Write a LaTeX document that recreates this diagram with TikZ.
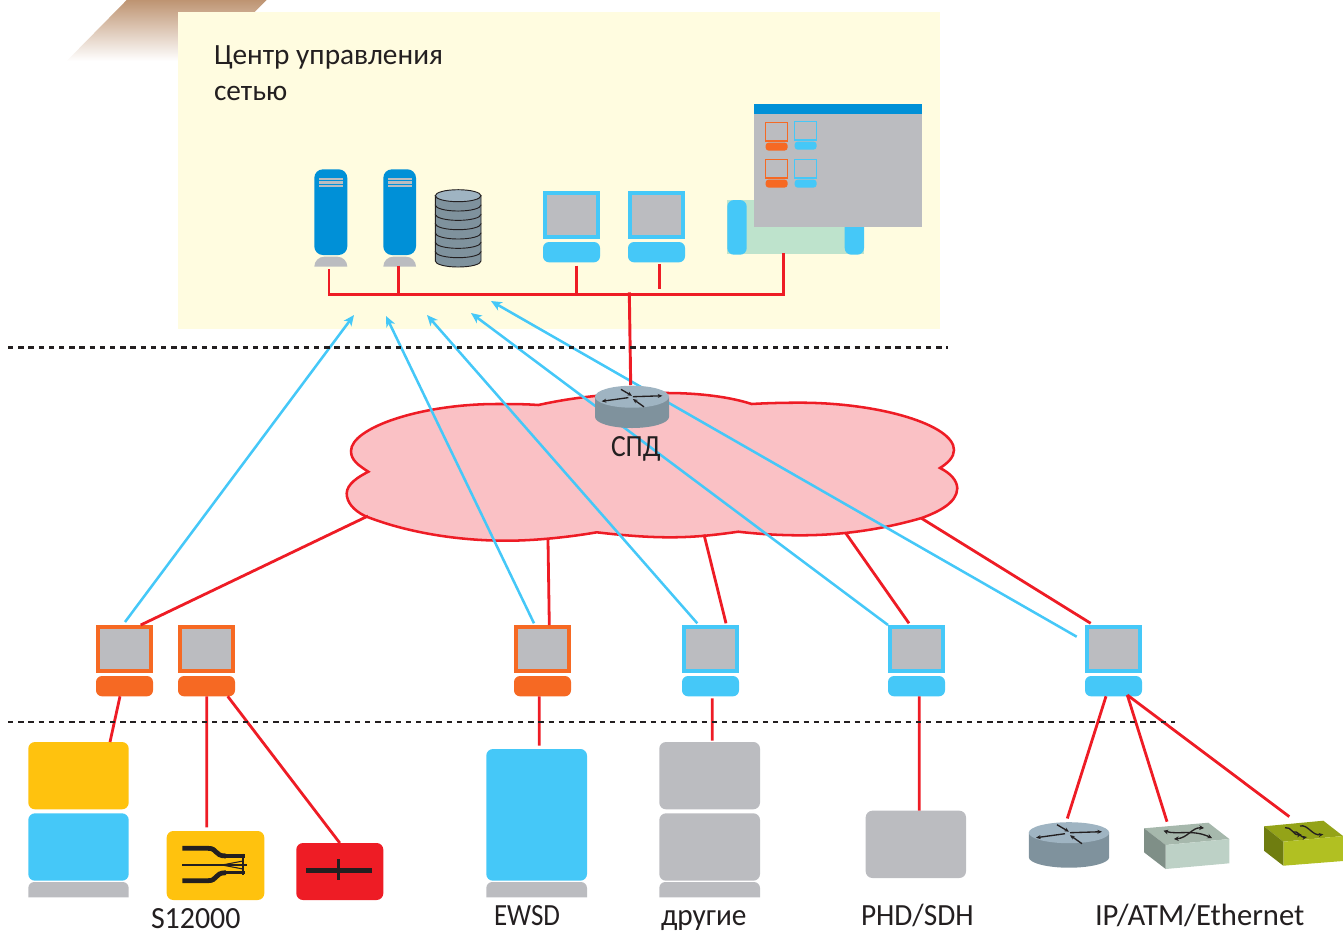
\documentclass[tikz,border=0pt]{standalone}
\usepackage{graphicx}
\usepackage{fontspec}
\setmainfont{Carlito}
\usetikzlibrary{arrows.meta}
\definecolor{cRed}{HTML}{EE1C25}
\definecolor{cBlue}{HTML}{45C8F8}
\definecolor{cOrange}{HTML}{F66923}
\definecolor{cYellow}{HTML}{FFC20E}
\definecolor{cGray}{HTML}{BBBCC0}
\definecolor{cServer}{HTML}{0090D7}
\definecolor{cPanel}{HTML}{FFFCE0}
\definecolor{cCloud}{HTML}{FAC1C5}
\definecolor{cInk}{HTML}{231F20}
\definecolor{cRtop}{HTML}{9FB4C2}
\definecolor{cRside}{HTML}{7F929D}
\definecolor{cGreen}{HTML}{BEE3CC}
\definecolor{cBrown}{HTML}{BE9472}
\definecolor{swTop}{HTML}{A6B8AC}
\definecolor{swRight}{HTML}{BDD1C6}
\definecolor{swLeft}{HTML}{7F8F87}
\definecolor{olTop}{HTML}{94A318}
\definecolor{olRight}{HTML}{B1C022}
\definecolor{olLeft}{HTML}{6F7D10}
\tikzset{
  blk/.style={inner sep=0pt,outer sep=0pt,draw=none},
  soft/.style={blk,rounded corners=5pt},
  redl/.style={draw=cRed,line width=2.2pt},
  redthin/.style={draw=cRed,line width=2.1pt},
  bluel/.style={draw=cBlue,line width=1.9pt,-{Stealth[length=8pt,width=7pt,inset=2.2pt]}},
  dashl/.style={draw=cInk,line width=1.7pt,dash pattern=on 4.1pt off 3.55pt},
  lbl/.style={anchor=base west,inner sep=0pt,outer sep=0pt,text=cInk,font=\fontsize{22}{26}\selectfont},
  glyph/.style={draw=cInk,line width=1pt,-{Stealth[length=3.5pt,width=3pt]}},
}
% style, name, x1, y1, x2, y2 (picture pixels)
\newcommand\boxnode[6]{%
  \pgfmathsetmacro\bw{(#5-#3)*0.75}\pgfmathsetmacro\bh{(#6-#4)*0.75}%
  \node[#1,minimum width=\bw pt,minimum height=\bh pt] (#2) at ({(#3+#5)/2},{(#4+#6)/2}) {};}
% name, left, top, colour
\newcommand\monitor[4]{%
  \pgfmathsetmacro\xr{#2+57}\pgfmathsetmacro\yb{#3+47.7}%
  \boxnode{blk,fill=#4}{#1}{#2}{#3}{\xr}{\yb}%
  \pgfmathsetmacro\xa{#2+4}\pgfmathsetmacro\xb{#2+53}\pgfmathsetmacro\ya{#3+4}\pgfmathsetmacro\yc{#3+43.7}%
  \boxnode{blk,fill=cGray}{#1s}{\xa}{\ya}{\xb}{\yc}%
  \pgfmathsetmacro\ya{#3+51}\pgfmathsetmacro\yc{#3+71.3}%
  \boxnode{blk,fill=#4,rounded corners=4.5pt}{#1b}{#2}{\ya}{\xr}{\yc}}
% name, left, top, colour (small monitor in the window)
\newcommand\minimon[4]{%
  \pgfmathsetmacro\xr{#2+22.2}\pgfmathsetmacro\yb{#3+18.4}%
  \boxnode{blk,draw=#4,line width=.95pt,fill=cGray}{#1}{#2}{#3}{\xr}{\yb}%
  \pgfmathsetmacro\ya{#3+20}\pgfmathsetmacro\yc{#3+28.2}%
  \boxnode{blk,fill=#4,rounded corners=2.5pt}{#1b}{#2}{\ya}{\xr}{\yc}}
% x1, x2, ytop, ybot, radius
\newcommand\tabshape[5]{%
  \fill[cGray] (#1,#4) -- ({#1},{#3+#5}) .. controls ({#1},{#3+0.45*#5}) and ({#1+0.45*#5},{#3}) .. ({#1+#5},{#3})
    -- ({#2-#5},{#3}) .. controls ({#2-0.45*#5},{#3}) and ({#2},{#3+0.45*#5}) .. ({#2},{#3+#5}) -- (#2,#4) -- cycle;}
% name, cx, cy(top ellipse), rx, ry, height, scale
\newcommand\router[7]{%
  \pgfmathsetmacro\bw{2*#4*0.75}\pgfmathsetmacro\bh{(2*#5+#6)*0.75}%
  \node[blk,minimum width=\bw pt,minimum height=\bh pt] (#1) at ({#2},{#3+#6/2}) {};
  \fill[cRside] ({#2-#4},{#3}) -- ({#2-#4},{#3+#6}) arc[start angle=180,end angle=0,x radius=#4,y radius=#5] -- ({#2+#4},{#3}) -- cycle;
  \fill[cRtop] (#2,#3) ellipse [x radius=#4,y radius=#5];
  \begin{scope}[shift={(#2,#3)},scale=#7]
    \draw[glyph] (-4,1) -- (-33,5);
    \draw[glyph] (1,0) -- (33,-1);
    \draw[glyph] (-12,-8) -- (0,-1);
    \draw[glyph] (13,11) -- (1,2.5);
  \end{scope}}
\newcommand\server[3]{% name, x1, x2
  \boxnode{blk,fill=cServer,rounded corners=6.5pt}{#1}{#2}{169.3}{#3}{255}
  \fill[cGray] ({#2+4.7},177.7) rectangle ({#3-4.3},180.3);
  \fill[cGray] ({#2+4.7},181.3) rectangle ({#3-4.3},183.7);
  \fill[cGray] ({#2+4.7},184.7) rectangle ({#3-4.3},187);
  \tabshape{#2}{#3}{256.7}{266.7}{10}
  \boxnode{blk}{#1b}{#2}{256.7}{#3}{266.7}}
\begin{document}
\begin{tikzpicture}[x=0.75pt,y=-0.75pt]
\useasboundingbox (0,0) rectangle (1343,933);
% ---- background shapes
\shade[top color=cBrown,bottom color=white,shading angle=0] (126.7,0) -- (266.7,0) -- (205,61) -- (66.7,61) -- cycle;
\boxnode{blk,fill=cPanel}{panel}{178}{12}{940}{329}
\node[lbl] (title1) at (214,64) {Центр управления};
\node[lbl] (title2) at (214,100) {сетью};
% ---- cloud
\filldraw[fill=cCloud,draw=cRed,line width=1.9pt]
 (368.3,471.7) .. controls (358,465) and (351,460) .. (351,451)
 .. controls (351,428) and (420,404) .. (497,404)
 .. controls (512,404) and (525,404) .. (538.3,405)
 .. controls (575,397) and (610,393) .. (667,393)
 .. controls (700,393) and (730,397) .. (751.7,404)
 .. controls (768,403) and (785,402.7) .. (800,402.7)
 .. controls (880,402.7) and (954,425) .. (954,450)
 .. controls (954,457) and (948,463) .. (940,468)
 .. controls (950,473) and (957,480) .. (957.3,488.3)
 .. controls (957,503) and (938,512) .. (921.7,518)
 .. controls (880,530) and (840,535.3) .. (800,535.3)
 .. controls (780,535.3) and (758,534) .. (738.3,531.7)
 .. controls (715,535) and (695,537.3) .. (670,537.3)
 .. controls (645,537.3) and (620,535) .. (596.7,532.3)
 .. controls (570,537) and (535,540.7) .. (506.7,540.7)
 .. controls (450,540.7) and (400,530) .. (365,516)
 .. controls (353,510) and (346.7,502) .. (346.7,493.3)
 .. controls (347,484) and (358,477) .. (368.3,471.7) -- cycle;
\coordinate (cl1) at (368,516);
\coordinate (cl2) at (548,540);
\coordinate (cl3) at (704,534.5);
\coordinate (cl4) at (846,533.5);
\coordinate (cl5) at (921,518);
\coordinate (t1) at (354,315);
\coordinate (t2) at (386,316);
\coordinate (t3) at (427,315);
\coordinate (t4) at (471,313);
\coordinate (t5) at (491,301);
\coordinate (busR) at (783.7,294.3);
\coordinate (busM) at (629.3,292.3);
\coordinate (stub) at (659.7,289.3);
% ---- top devices
\server{srvA}{314.3}{347.3}
\server{srvB}{383.3}{416}
\foreach \k in {6,...,0}{
  \pgfmathsetmacro\cy{195.7+\k*9.33}
  \filldraw[fill=cRside,draw=cInk,line width=.7pt] (435.3,\cy) -- (435.3,{\cy+9.33}) arc[start angle=180,end angle=0,x radius=22.85,y radius=6] -- (481,\cy) -- cycle;
}
\filldraw[fill=cRtop,draw=cInk,line width=.7pt] (458.15,195.7) ellipse [x radius=22.85,y radius=6];
\node[blk,minimum width=34pt,minimum height=58pt] (disk) at (458.15,230) {};
\monitor{mG}{543}{191}{cBlue}
\monitor{mH}{628}{191}{cBlue}
\boxnode{blk,fill=cGreen}{prn}{727.3}{200}{864}{254}
\boxnode{soft,fill=cBlue}{prnL}{727.3}{200}{746.7}{254.7}
\boxnode{soft,fill=cBlue}{prnR}{844.7}{200}{864}{254.7}
\boxnode{blk,fill=cGray}{win}{754}{104}{922}{227}
\boxnode{blk,fill=cServer}{winbar}{754}{104}{922}{114}
\minimon{mmA}{765.5}{122.5}{cOrange}
\minimon{mmB}{794.5}{121.5}{cBlue}
\minimon{mmC}{765.5}{159.5}{cOrange}
\minimon{mmD}{794.5}{159.5}{cBlue}
% ---- bottom devices
\monitor{mA}{96}{625}{cOrange}
\monitor{mB}{178}{625}{cOrange}
\monitor{mC}{514}{625}{cOrange}
\monitor{mD}{682}{625}{cBlue}
\monitor{mE}{888}{625}{cBlue}
\monitor{mF}{1085}{625}{cBlue}
\boxnode{soft,fill=cYellow}{sYa}{28.3}{742}{128.7}{809.3}
\boxnode{soft,fill=cBlue}{sYb}{28.3}{813.3}{128.7}{880.7}
\tabshape{28.3}{128.7}{882}{897.3}{6}
\boxnode{soft,fill=cYellow}{mux}{166.7}{831}{264.3}{900}
\boxnode{soft,fill=cRed}{redb}{296.3}{843}{383.3}{900}
\boxnode{soft,fill=cBlue}{ewsd}{486.3}{749}{587}{880.7}
\tabshape{486.3}{587}{882}{897.3}{6}
\boxnode{soft,fill=cGray}{othA}{659.3}{742}{760}{809.3}
\boxnode{soft,fill=cGray}{othB}{659.3}{813.3}{760}{880.7}
\tabshape{659.3}{760}{882}{897.3}{6}
\boxnode{soft,fill=cGray}{phd}{865.7}{810.7}{966}{878}
% mux glyph
\draw[cInk,line width=3.6pt] (182.3,848.3) -- (208,848.3) .. controls (218,848.3) and (214,856) .. (226,856);
\draw[cInk,line width=2.4pt] (225,856) -- (245,856);
\draw[cInk,line width=3.6pt] (182.3,880.7) -- (208,880.7) .. controls (218,880.7) and (214,872.7) .. (226,872.7);
\draw[cInk,line width=2.4pt] (225,872.7) -- (245,872.7);
\draw[cInk,line width=1.5pt] (182.3,865) -- (246.7,865);
\draw[cInk,line width=.8pt] (222,865) -- (243,861);
\draw[cInk,line width=.8pt] (222,865) -- (243,869);
\draw[cInk,line width=2.2pt] (243,853.5) -- (243,875);
% red box glyph
\fill[cInk] (305.7,868) rectangle (371.7,873);
\fill[cInk] (337.3,859) rectangle (340,879.7);
% switches
\node[blk,minimum width=64pt,minimum height=34.7pt] (swt) at (1186.65,845.8) {};
\fill[swTop] (1144,828.3) -- (1208.3,822.7) -- (1229.3,839) -- (1165.7,845) -- cycle;
\fill[swRight] (1165.7,845) -- (1229.3,839) -- (1229.3,863.3) -- (1165.7,869) -- cycle;
\fill[swLeft] (1144,828.3) -- (1165.7,845) -- (1165.7,869) -- (1144,852.3) -- cycle;
\draw[glyph,{Stealth[length=3.5pt,width=3.5pt]}-{Stealth[length=3.5pt,width=3.5pt]}] (1163.5,830.7) .. controls (1178,835) and (1192,829) .. (1212,838);
\draw[glyph,{Stealth[length=3.5pt,width=3.5pt]}-{Stealth[length=3.5pt,width=3.5pt]}] (1174,839) .. controls (1188,838) and (1192,827) .. (1204,828);
\node[blk,minimum width=59pt,minimum height=34pt] (oliv) at (1303.5,843.2) {};
\fill[olTop] (1264,826.3) -- (1323.3,820.7) -- (1343,836) -- (1283.3,841.7) -- cycle;
\fill[olRight] (1283.3,841.7) -- (1343,836) -- (1343,861) -- (1283.3,865.7) -- cycle;
\fill[olLeft] (1264,826.3) -- (1283.3,841.7) -- (1283.3,865.7) -- (1264,850.7) -- cycle;
\draw[glyph] (1285,827.7) .. controls (1291,826) and (1294,836) .. (1301.5,834.5);
\draw[glyph] (1300,826) .. controls (1308,824) and (1312,836) .. (1323.3,834.3);
\draw[glyph] (1293,832) .. controls (1298,830) and (1301,838) .. (1307,837);
\router{rtB}{1069}{832.7}{40.2}{10.5}{24.5}{1}
% ---- blue links
\draw[bluel] ([shift={(0.5,-3)}]mA.north) -- (t1);
\draw[bluel] ([shift={(-8.5,-1.7)}]mC.north) -- (t2);
\draw[bluel] ([shift={(-13.2,-1.7)}]mD.north) -- (t3);
\draw[bluel] (mE.north west) -- (t4);
\draw[bluel] ([shift={(-8.3,11.7)}]mF.north west) -- (t5);
% ---- red links, top
\coordinate (sB) at ([shift={(-1.35,-1)}]srvBb.south);
\coordinate (sG) at ([shift={(5.2,3.4)}]mGb.south);
\draw[redl,line join=miter] ([shift={(-1.8,2.6)}]srvAb.south) |- (busR) -- ([shift={(-11.95,-1)}]prn.south);
\draw[redl] (sB) -- (sB |- busR);
\draw[redl] (sG) -- (sG |- busR);
\draw[redl] ([shift={(3.2,1.7)}]mHb.south) -- (stub);
\router{rtA}{632}{396.7}{37}{11}{20.3}{0.92}
\draw[redl] (busM) -- ([shift={(-1.3,-0.7)}]rtA.north);
\node[lbl] (spd) at (611,456) {\scalebox{.94}[1.05]{СПД}};
% ---- red links, cloud to monitors
\draw[redthin] (cl1) -- ([shift={(16.2,0)}]mA.north);
\draw[redthin] (cl2) -- ([shift={(6.8,0)}]mC.north);
\draw[redthin] (cl3) -- ([shift={(15.5,-1.7)}]mD.north);
\draw[redthin] (cl4) -- ([shift={(-7.5,-1.7)}]mE.north);
\draw[redthin] (cl5) -- ([shift={(-22.8,-1.7)}]mF.north);
% ---- red links, monitors to equipment
\draw[redthin] ([shift={(-4.5,0)}]mAb.south) -- ([shift={(31.5,0)}]sYa.north);
\draw[redthin] ([shift={(0.2,0)}]mBb.south) -- ([shift={(-8.8,-3.7)}]mux.north);
\draw[redthin] ([shift={(21.2,0)}]mBb.south) -- (redb.north);
\draw[redthin] ([shift={(-3.2,0)}]mCb.south) -- ([shift={(2.65,-3.3)}]ewsd.north);
\draw[redthin] ([shift={(1.8,2)}]mDb.south) -- ([shift={(2.65,-1.3)}]othA.north);
\draw[redthin] ([shift={(2.8,0)}]mEb.south) -- ([shift={(3.45,0)}]phd.north);
\draw[redthin] ([shift={(-7.5,0)}]mFb.south) -- ([shift={(-1.7,-3.7)}]rtB.north);
\draw[redthin] ([shift={(13.8,-1.3)}]mFb.south) -- ([shift={(-19.65,-1)}]swt.north);
\draw[redthin] ([shift={(13.8,-1.3)}]mFb.south) -- ([shift={(-14.2,-3.9)}]oliv.north);
% ---- dashed boundaries
\coordinate (dA) at (8,347.5); \coordinate (dB) at (948,347.5);
\coordinate (dC) at (8,722); \coordinate (dD) at (1175,722);
\draw[dashl] (dA) -- (dB);
\draw[dashl] (dC) -- (dD);
% ---- labels
\node[lbl] (l1) at (151,928) {\scalebox{1.02}[1.05]{S12000}};
\node[lbl] (l2) at (494,925) {\scalebox{.92}[1.05]{EWSD}};
\node[lbl] (l3) at (661,925) {\scalebox{1}[1.05]{другие}};
\node[lbl] (l4) at (861,925) {\scalebox{1}[1.05]{PHD/SDH}};
\node[lbl] (l5) at (1095,925) {\scalebox{1.045}[1.05]{IP/ATM/Ethernet}};
\end{tikzpicture}
\end{document}
